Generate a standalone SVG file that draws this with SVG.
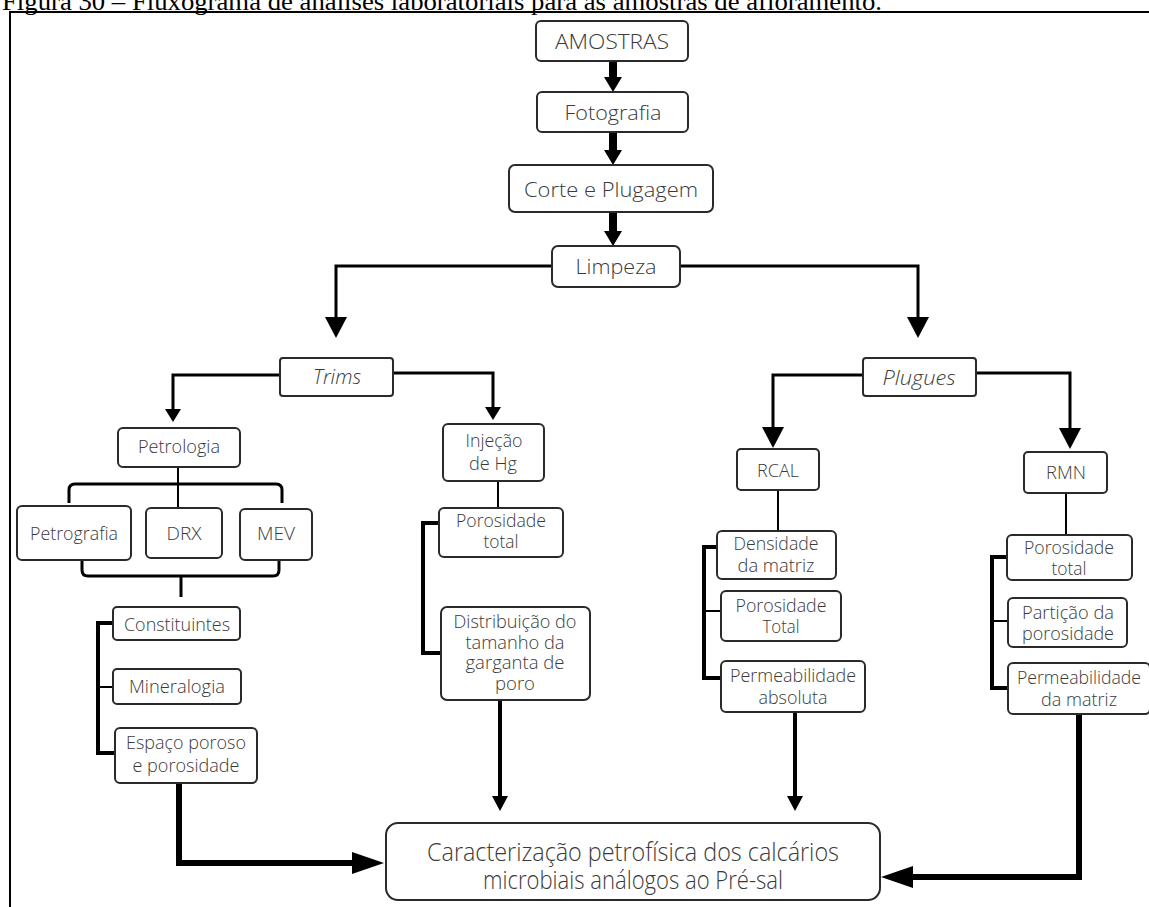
<svg xmlns="http://www.w3.org/2000/svg" width="1149" height="907" viewBox="0 0 1149 907">
  <style>
    .box { fill: #ffffff; stroke: #2a2a2a; stroke-width: 2; }
    .t { font-family: "Open Sans", "Noto Sans", "Liberation Sans", sans-serif; font-weight: 300; fill: #3a3a3a; text-anchor: middle; }
    .t21 { font-size: 21px; }
    .t19 { font-size: 19px; }
    .t18 { font-size: 18px; }
    .t25 { font-size: 25px; }
    .it { font-style: italic; }
    .ln { fill: none; stroke: #000; stroke-linejoin: miter; }
    .w2 { stroke-width: 2; }
    .w3 { stroke-width: 3; }
    .w4 { stroke-width: 4; }
    .w6 { stroke-width: 6; }
    .w8 { stroke-width: 8; }
    .cap { font-family: "Liberation Serif", "Times New Roman", serif; font-size: 26px; fill: #000; }
  </style>
  <defs>
    <marker id="hTop" markerUnits="userSpaceOnUse" orient="auto" refX="0" refY="0" overflow="visible">
      <path d="M0,-9 L15,0 L0,9 Z" fill="#000"/>
    </marker>
    <marker id="hBig" markerUnits="userSpaceOnUse" orient="auto" refX="0" refY="0" overflow="visible">
      <path d="M0,-11 L21,0 L0,11 Z" fill="#000"/>
    </marker>
    <marker id="hSmall" markerUnits="userSpaceOnUse" orient="auto" refX="0" refY="0" overflow="visible">
      <path d="M0,-8 L13,0 L0,8 Z" fill="#000"/>
    </marker>
    <marker id="hMid" markerUnits="userSpaceOnUse" orient="auto" refX="0" refY="0" overflow="visible">
      <path d="M0,-8 L15,0 L0,8 Z" fill="#000"/>
    </marker>
    <marker id="hWide" markerUnits="userSpaceOnUse" orient="auto" refX="0" refY="0" overflow="visible">
      <path d="M0,-11 L32,0 L0,11 Z" fill="#000"/>
    </marker>
  </defs>

  <rect width="1149" height="907" fill="#ffffff"/>

  <!-- caption, clipped by the top edge -->
  <text class="cap" x="2" y="10" textLength="880" lengthAdjust="spacingAndGlyphs">Figura 30 – Fluxograma de análises laboratoriais para as amostras de afloramento.</text>

  <!-- frame -->
  <path d="M10,907 V12 H1149" fill="none" stroke="#000" stroke-width="2"/>

  <!-- connectors -->
  <g id="connectors">
    <path class="ln w8" d="M613,61 V77" marker-end="url(#hTop)"/>
    <path class="ln w8" d="M613,132 V150" marker-end="url(#hTop)"/>
    <path class="ln w8" d="M613,212 V231" marker-end="url(#hTop)"/>

    <path class="ln w3" d="M552,266 H336 V317" marker-end="url(#hBig)"/>
    <path class="ln w3" d="M680,266 H918 V317" marker-end="url(#hBig)"/>

    <path class="ln w3" d="M280,375 H173 V409" marker-end="url(#hSmall)"/>
    <path class="ln w3" d="M393,373 H493 V407" marker-end="url(#hSmall)"/>

    <path class="ln w3" d="M863,375 H773 V427" marker-end="url(#hBig)"/>
    <path class="ln w3" d="M976,373 H1070 V428" marker-end="url(#hBig)"/>

    <!-- Petrologia braces -->
    <path class="ln w2" d="M178,467 V508"/>
    <path class="ln w3" d="M69,503 V490 Q69,484 75,484 H276 Q282,484 282,490 V503"/>
    <path class="ln w3" d="M82,560 V570 Q82,576 88,576 H273 Q279,576 279,570 V560"/>
    <path class="ln w3" d="M181,576 V597"/>
    <path class="ln w4" d="M113,623 H98 V753 H115"/>
    <path class="ln w2" d="M98,687 H113"/>

    <!-- Injeção de Hg -->
    <path class="ln w2" d="M498,481 V508"/>
    <path class="ln w4" d="M439,523 H423 V653 H441"/>

    <!-- RCAL -->
    <path class="ln w2" d="M778,490 V531"/>
    <path class="ln w4" d="M717,547 H704 V678 H721"/>
    <path class="ln w2" d="M704,611 H721"/>

    <!-- RMN -->
    <path class="ln w2" d="M1066,493 V535"/>
    <path class="ln w4" d="M1007,557 H992 V688 H1008"/>
    <path class="ln w2" d="M992,621 H1008"/>

    <!-- into the final box -->
    <path class="ln w6" d="M179,783 V863 H352" marker-end="url(#hWide)"/>
    <path class="ln w4" d="M500,700 V796" marker-end="url(#hMid)"/>
    <path class="ln w4" d="M795,712 V796" marker-end="url(#hMid)"/>
    <path class="ln w6" d="M1079,714 V877 H913" marker-end="url(#hWide)"/>
  </g>

  <g id="amostras">
    <rect class="box" x="536" y="21" width="152" height="40" rx="5"/>
    <text class="t t21" x="612" y="49" textLength="114" lengthAdjust="spacingAndGlyphs">AMOSTRAS</text>
  </g>
  <g id="fotografia">
    <rect class="box" x="537" y="92" width="151" height="40" rx="5"/>
    <text class="t t21" x="613" y="120" textLength="97" lengthAdjust="spacingAndGlyphs">Fotografia</text>
  </g>
  <g id="corte">
    <rect class="box" x="509" y="165" width="204" height="47" rx="6"/>
    <text class="t t21" x="611" y="197" textLength="174" lengthAdjust="spacingAndGlyphs">Corte e Plugagem</text>
  </g>
  <g id="limpeza">
    <rect class="box" x="552" y="246" width="128" height="41" rx="6"/>
    <text class="t t21" x="616" y="274" textLength="81" lengthAdjust="spacingAndGlyphs">Limpeza</text>
  </g>

  <g id="trims">
    <rect class="box" x="280" y="358" width="113" height="38" rx="3"/>
    <text class="t t21 it" x="337" y="384" textLength="48" lengthAdjust="spacingAndGlyphs">Trims</text>
  </g>
  <g id="plugues">
    <rect class="box" x="863" y="358" width="113" height="38" rx="3"/>
    <text class="t t21 it" x="919" y="385" textLength="73" lengthAdjust="spacingAndGlyphs">Plugues</text>
  </g>

  <g id="petrologia">
    <rect class="box" x="118" y="428" width="122" height="39" rx="5"/>
    <text class="t t19" x="179" y="453" textLength="82" lengthAdjust="spacingAndGlyphs">Petrologia</text>
  </g>
  <g id="petrografia">
    <rect class="box" x="17" y="506" width="114" height="54" rx="5"/>
    <text class="t t19" x="74" y="540" textLength="88" lengthAdjust="spacingAndGlyphs">Petrografia</text>
  </g>
  <g id="drx">
    <rect class="box" x="146" y="508" width="76" height="50" rx="5"/>
    <text class="t t19" x="184" y="540" textLength="35" lengthAdjust="spacingAndGlyphs">DRX</text>
  </g>
  <g id="mev">
    <rect class="box" x="240" y="509" width="72" height="51" rx="5"/>
    <text class="t t19" x="276" y="540" textLength="38" lengthAdjust="spacingAndGlyphs">MEV</text>
  </g>
  <g id="constituintes">
    <rect class="box" x="113" y="607" width="127" height="33" rx="4"/>
    <text class="t t18" x="177" y="631" textLength="106" lengthAdjust="spacingAndGlyphs">Constituintes</text>
  </g>
  <g id="mineralogia">
    <rect class="box" x="113" y="669" width="128" height="35" rx="4"/>
    <text class="t t18" x="177" y="693" textLength="96" lengthAdjust="spacingAndGlyphs">Mineralogia</text>
  </g>
  <g id="espaco">
    <rect class="box" x="115" y="728" width="142" height="55" rx="5"/>
    <text class="t t18" x="186" y="749" textLength="120" lengthAdjust="spacingAndGlyphs">Espaço poroso</text>
    <text class="t t18" x="186" y="772" textLength="107" lengthAdjust="spacingAndGlyphs">e porosidade</text>
  </g>

  <g id="injecao">
    <rect class="box" x="443" y="424" width="101" height="57" rx="5"/>
    <text class="t t18" x="494" y="447" textLength="57" lengthAdjust="spacingAndGlyphs">Injeção</text>
    <text class="t t18" x="493" y="470" textLength="48" lengthAdjust="spacingAndGlyphs">de Hg</text>
  </g>
  <g id="porosidade-hg">
    <rect class="box" x="439" y="508" width="124" height="49" rx="5"/>
    <text class="t t18" x="501" y="527" textLength="90" lengthAdjust="spacingAndGlyphs">Porosidade</text>
    <text class="t t18" x="501" y="548" textLength="35" lengthAdjust="spacingAndGlyphs">total</text>
  </g>
  <g id="distribuicao">
    <rect class="box" x="441" y="607" width="149" height="93" rx="6"/>
    <text class="t t18" x="515" y="628" textLength="123" lengthAdjust="spacingAndGlyphs">Distribuição do</text>
    <text class="t t18" x="515" y="649" textLength="99" lengthAdjust="spacingAndGlyphs">tamanho da</text>
    <text class="t t18" x="515" y="669" textLength="99" lengthAdjust="spacingAndGlyphs">garganta de</text>
    <text class="t t18" x="515" y="690" textLength="40" lengthAdjust="spacingAndGlyphs">poro</text>
  </g>

  <g id="rcal">
    <rect class="box" x="737" y="449" width="82" height="41" rx="4"/>
    <text class="t t19" x="778" y="477" textLength="42" lengthAdjust="spacingAndGlyphs">RCAL</text>
  </g>
  <g id="densidade">
    <rect class="box" x="717" y="531" width="119" height="48" rx="5"/>
    <text class="t t18" x="776" y="550" textLength="85" lengthAdjust="spacingAndGlyphs">Densidade</text>
    <text class="t t18" x="776" y="572" textLength="77" lengthAdjust="spacingAndGlyphs">da matriz</text>
  </g>
  <g id="porosidade-rcal">
    <rect class="box" x="721" y="591" width="120" height="50" rx="5"/>
    <text class="t t18" x="781" y="612" textLength="91" lengthAdjust="spacingAndGlyphs">Porosidade</text>
    <text class="t t18" x="781" y="633" textLength="37" lengthAdjust="spacingAndGlyphs">Total</text>
  </g>
  <g id="permeabilidade-abs">
    <rect class="box" x="721" y="661" width="144" height="51" rx="5"/>
    <text class="t t18" x="793" y="682" textLength="126" lengthAdjust="spacingAndGlyphs">Permeabilidade</text>
    <text class="t t18" x="793" y="704" textLength="69" lengthAdjust="spacingAndGlyphs">absoluta</text>
  </g>

  <g id="rmn">
    <rect class="box" x="1024" y="452" width="83" height="41" rx="4"/>
    <text class="t t19" x="1066" y="479" textLength="40" lengthAdjust="spacingAndGlyphs">RMN</text>
  </g>
  <g id="porosidade-rmn">
    <rect class="box" x="1007" y="535" width="125" height="45" rx="5"/>
    <text class="t t18" x="1069" y="554" textLength="90" lengthAdjust="spacingAndGlyphs">Porosidade</text>
    <text class="t t18" x="1069" y="575" textLength="35" lengthAdjust="spacingAndGlyphs">total</text>
  </g>
  <g id="particao">
    <rect class="box" x="1008" y="598" width="119" height="49" rx="5"/>
    <text class="t t18" x="1068" y="619" textLength="92" lengthAdjust="spacingAndGlyphs">Partição da</text>
    <text class="t t18" x="1068" y="640" textLength="92" lengthAdjust="spacingAndGlyphs">porosidade</text>
  </g>
  <g id="permeabilidade-matriz">
    <rect class="box" x="1008" y="663" width="142" height="51" rx="5"/>
    <text class="t t18" x="1079" y="684" textLength="124" lengthAdjust="spacingAndGlyphs">Permeabilidade</text>
    <text class="t t18" x="1079" y="706" textLength="76" lengthAdjust="spacingAndGlyphs">da matriz</text>
  </g>

  <g id="caracterizacao">
    <rect class="box" x="386" y="823" width="494" height="77" rx="12"/>
    <text class="t t25" x="633" y="861" textLength="412" lengthAdjust="spacingAndGlyphs">Caracterização petrofísica dos calcários</text>
    <text class="t t25" x="633" y="889" textLength="300" lengthAdjust="spacingAndGlyphs">microbiais análogos ao Pré-sal</text>
  </g>
</svg>
